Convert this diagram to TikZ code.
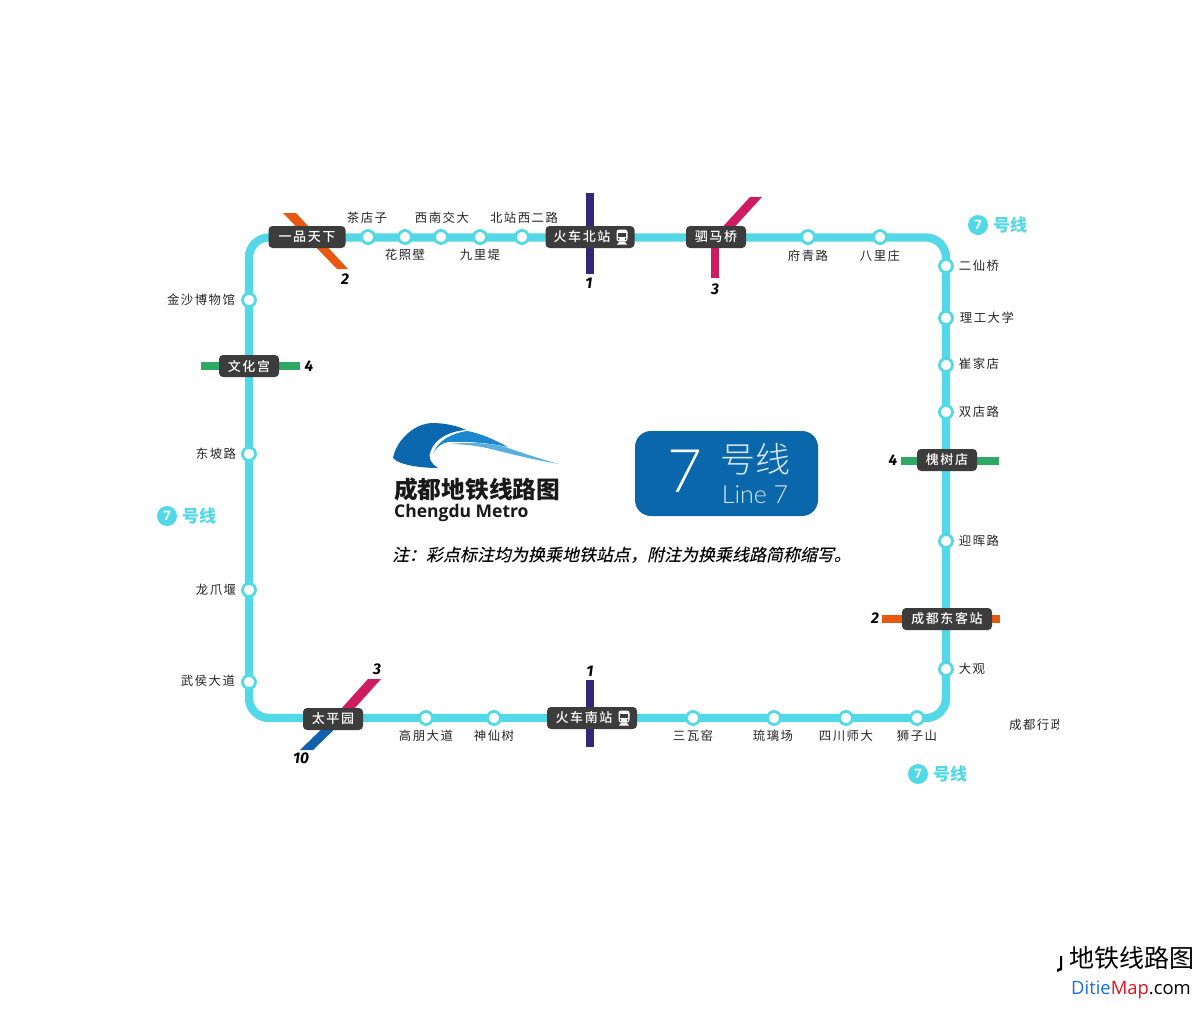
\documentclass[tikz,border=0pt]{standalone}
\usepackage{fontspec}
\setmainfont{Noto Sans CJK SC}
\newfontfamily\stfont[LetterSpace=12]{Noto Sans CJK SC}
\newfontfamily\boxfont[LetterSpace=12,UprightFont=* Medium]{Noto Sans CJK SC}
\newfontfamily\notefont[FakeSlant=0.22,UprightFont=* Medium]{Noto Sans CJK SC}
\newfontfamily\latinfont{Open Sans}
\newfontfamily\numfont{Fira Sans}
\newfontfamily\lightfont[UprightFont=* Light]{Lato}
\newfontfamily\cjklight[UprightFont=* Light]{Noto Sans CJK SC}
\definecolor{loopc}{HTML}{52D8E6}
\definecolor{boxc}{HTML}{3C3C3C}
\definecolor{navyc}{HTML}{34267A}
\definecolor{orangec}{HTML}{E8590F}
\definecolor{magc}{HTML}{CF1B62}
\definecolor{greenc}{HTML}{2FA866}
\definecolor{blueten}{HTML}{1160AE}
\definecolor{logod}{HTML}{0B68AE}
\definecolor{logom}{HTML}{1B87CC}
\definecolor{logol}{HTML}{5AAEE0}
\definecolor{panel}{HTML}{0A67AB}
\tikzset{
  x=1pt,y=-1pt,
  stn/.style={circle,draw=loopc,fill=white,line width=2.8pt,minimum size=13pt,inner sep=0pt},
  lab/.style={inner sep=0pt,text=black!85,font=\fontsize{12.4}{14}\stfont},
  xfer/.style={rounded corners=4pt,fill=boxc,text=white,minimum height=22pt,inner sep=0pt,font=\fontsize{13}{14}\boxfont},
  num/.style={inner sep=0pt,text=black,font=\fontsize{15.5}{16}\numfont\bfseries\itshape},
  cross/.style={line width=8.5pt},
  sevenc/.style={circle,fill=loopc,text=white,minimum size=20pt,inner sep=0pt,font=\fontsize{13}{14}\latinfont\bfseries},
  sevent/.style={inner sep=0pt,text=loopc,font=\fontsize{17}{18}\selectfont\bfseries},
  trainicon/.pic={
    \fill[white,rounded corners=2.5pt] (-5.5,-7.5) rectangle (5.5,4.5);
    \fill[boxc] (-3.8,-4.5) rectangle (3.8,-0.5);
    \fill[boxc] (-3.5,2) circle (1);
    \fill[boxc] (3.5,2) circle (1);
    \fill[white] (-5,7.5) -- (-3,5) -- (3,5) -- (5,7.5) -- cycle;
  }
}
\begin{document}
\begin{tikzpicture}
\useasboundingbox (0,0) rectangle (1200,1015);
\fill[white] (0,0) rectangle (1200,1015);
% interchange free ends
\coordinate (n1a) at (590,193); \coordinate (n1b) at (590,274);
\coordinate (s1a) at (590,680); \coordinate (s1b) at (590,747);
\coordinate (w4a) at (201,366); \coordinate (w4b) at (300,366);
\coordinate (e4a) at (901,461); \coordinate (e4b) at (999,461);
\coordinate (e2a) at (882,619); \coordinate (e2b) at (1000,619);
\coordinate (smv) at (715,278); \coordinate (smm) at (715,238);
% crossing lines
\draw[cross,navyc] (n1a) -- (n1b);
\draw[cross,navyc] (s1a) -- (s1b);
\draw[cross,greenc] (w4a) -- (w4b);
\draw[cross,greenc] (e4a) -- (e4b);
\draw[cross,orangec] (e2a) -- (e2b);
\draw[cross,magc] (smv) -- (smm);
\fill[orangec] (283,213) -- (296,213) -- (348,269) -- (337,269) -- cycle;
\fill[magc] (750,197) -- (762,197) -- (720,243) -- (708,243) -- cycle;
\fill[magc] (368,679) -- (381,679) -- (345,719) -- (332,719) -- cycle;
\fill[blueten] (332,719) -- (345,719) -- (313,750) -- (300,750) -- cycle;
% loop
\coordinate (cNW) at (249,237.5);
\coordinate (cSE) at (946,718);
\draw[loopc,line width=8.3pt,rounded corners=20pt] (cNW) rectangle (cSE);
% stations
\foreach \n/\x/\y in {a1/368/237,a2/405/237,a3/441/237,a4/480/237,a5/522/237,a6/808/237,a7/880/237,
  b1/946/266,b2/946/318,b3/946/365,b4/946/412,b5/946/541,b6/946/669,
  c1/426/718,c2/494/718,c3/693/718,c4/774/718,c5/846/718,c6/917/718,
  d1/249/300,d2/249/454,d3/249/590,d4/249/682}
  \node[stn] (\n) at (\x,\y) {};
% station labels
\foreach \n/\x/\y/\t in {la1/367/218/茶店子,la2/405/255/花照壁,la3/442/218/西南交大,la4/480/255/九里堤,la5/524/218/北站西二路,la6/808/256/府青路,la7/880/256/八里庄,
  lb1/979/266/二仙桥,lb2/987/318/理工大学,lb3/979/364/崔家店,lb4/979/412/双店路,lb5/979/541/迎晖路,lb6/972/669/大观,
  lc1/426/736/高朋大道,lc2/494/736/神仙树,lc3/693/736/三瓦窑,lc4/773/736/琉璃场,lc5/846/736/四川师大,lc6/917/736/狮子山,
  ld1/201/300/金沙博物馆,ld2/216/454/东坡路,ld3/216/590/龙爪堰,ld4/208/681/武侯大道}
  \node[lab] (\n) at (\x,\y) {\t};
% transfer boxes
\node[xfer,minimum width=77pt] (yp) at (307,237) {一品天下};
\node[xfer,minimum width=89pt] (hb) at (590,237) {\hspace{-16pt}火车北站};
\node[xfer,minimum width=60pt] (sm) at (716,237) {驷马桥};
\node[xfer,minimum width=60pt] (wh) at (249,366) {文化宫};
\node[xfer,minimum width=60pt] (hs) at (947,460) {槐树店};
\node[xfer,minimum width=90pt] (cd) at (947,619) {成都东客站};
\node[xfer,minimum width=60pt] (tp) at (333,719) {太平园};
\node[xfer,minimum width=90pt] (hn) at (592,718) {\hspace{-16pt}火车南站};
\pic at (622,237) {trainicon};
\pic at (624,718) {trainicon};
% numbers
\foreach \n/\x/\y/\t in {m1/345/279/2,m2/589/283/1,m3/715/289/3,m4/309/366/4,m5/893/460/4,m6/875/618/2,m7/377/669/3,m8/590/671/1,m9/301/758/10}
  \node[num] (\n) at (\x,\y) {\t};
% line 7 tags
\foreach \n/\x/\y in {s1/978/225,s2/167/516,s3/918/774}{
  \node[sevenc] (\n) at (\x,\y) {7};
  \node[sevent,anchor=west] (\n t) at (\x+15,\y) {号线};
}
% logo
\fill[logod] (393,458) .. controls (396,442) and (412,424) .. (432,423) .. controls (445,423) and (458,426) .. (466,430)
  .. controls (450,431) and (436,438) .. (431,450) .. controls (428,456) and (429,462) .. (438,468) .. controls (425,468) and (400,466) .. (393,458) -- cycle;
\fill[logom] (433,454) .. controls (437,441) and (452,433) .. (467,431) .. controls (480,433) and (495,440) .. (508,447)
  .. controls (490,443) and (465,441) .. (448,442) .. controls (442,443) and (436,447) .. (433,454) -- cycle;
\fill[logol] (449,444) .. controls (470,442) and (490,443) .. (505,447) .. controls (520,452) and (540,459) .. (559,464)
  .. controls (535,460) and (515,455) .. (495,450) .. controls (480,446) and (465,444) .. (449,444) -- cycle;
\node[anchor=west,inner sep=0pt,text=black!90,font=\fontsize{23.7}{26}\selectfont\bfseries] (lt1) at (394,489) {成都地铁线路图};
\node[anchor=west,inner sep=0pt,text=black!90,font=\fontsize{17.5}{20}\latinfont\bfseries] (lt2) at (394,513) {Chengdu Metro};
% panel
\node[fill=panel,rounded corners=16pt,minimum width=183pt,minimum height=85pt,inner sep=0pt] (pn) at (726.5,473.5) {};
\node[text=white,inner sep=0pt,font=\fontsize{60}{64}\lightfont] (p7) at (685,471) {7};
\node[text=white!85!panel,inner sep=0pt,font=\fontsize{35}{38}\cjklight] (ph) at (755,459) {号线};
\node[text=white!85!panel,inner sep=0pt,font=\fontsize{25}{28}\lightfont] (pl) at (755,495) {Line 7};
% note
\node[anchor=west,inner sep=0pt,text=black,font=\fontsize{17}{20}\notefont] (note) at (392,555) {注：彩点标注均为换乘地铁站点，附注为换乘线路简称缩写。};
% clipped text
\begin{scope}
\clip (1000,710) rectangle (1058,740);
\node[anchor=west,inner sep=0pt,text=black!85,font=\fontsize{12.4}{14}\stfont] (xz) at (1009,725) {成都行政};
\end{scope}
% watermark
\fill[black] (1060,956) -- (1062,956) -- (1062,970) -- (1057,972) -- (1057,969) -- (1060,968) -- cycle;
\node[anchor=west,inner sep=0pt,text=black,font=\fontsize{25}{28}\selectfont] (wm1) at (1069,958) {地铁线路图};
\node[anchor=west,inner sep=0pt,font=\fontsize{18.4}{22}\latinfont] (wm2) at (1071,990) {\textcolor[HTML]{1B6FD8}{Ditie}\textcolor[HTML]{E0141E}{Map}\textcolor{black}{.com}};
\end{tikzpicture}
\end{document}
